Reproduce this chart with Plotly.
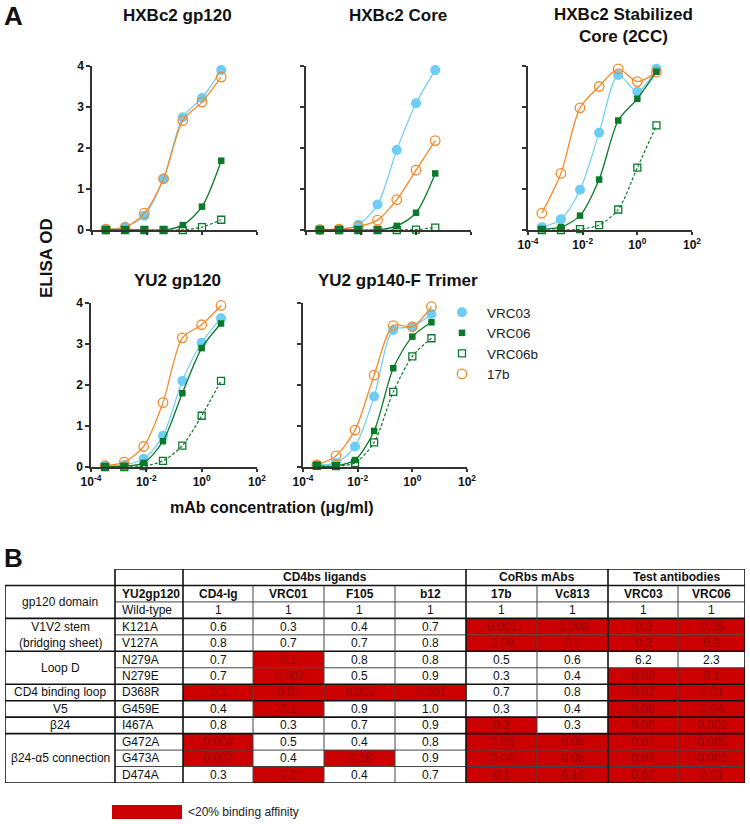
import plotly.graph_objects as go

# ---------------- DATA ----------------
conc = [0.00032, 0.0016, 0.008, 0.04, 0.2, 1, 5]
series_names = ["VRC03", "VRC06", "VRC06b", "17b"]
panel_titles = ["HXBc2 gp120", "HXBc2 Core", "HXBc2 Stabilized<br>Core (2CC)",
                "YU2 gp120", "YU2 gp140-F Trimer"]
x_tick_vals = [1e-4, 1e-2, 1, 100]
x_tick_text = ["10<sup>-4</sup>", "10<sup>-2</sup>", "10<sup>0</sup>", "10<sup>2</sup>"]
y_tick_vals = [0, 1, 2, 3, 4]

gp120_vrc03 = [0.02, 0.08, 0.35, 1.25, 2.75, 3.22, 3.90]
gp120_vrc06 = [0.0, 0.0, 0.0, 0.0, 0.12, 0.57, 1.69]
gp120_vrc06b = [0.0, 0.0, 0.0, 0.0, 0.0, 0.07, 0.25]
gp120_17b = [0.02, 0.06, 0.41, 1.25, 2.67, 3.12, 3.73]

core_vrc03 = [0.01, 0.02, 0.13, 0.62, 1.95, 3.09, 3.90]
core_vrc06 = [0.0, 0.01, 0.0, 0.0, 0.10, 0.42, 1.38]
core_vrc06b = [0.0, 0.0, 0.0, 0.0, 0.0, 0.01, 0.06]
core_17b = [0.01, 0.02, 0.08, 0.24, 0.74, 1.46, 2.18]

cc2_vrc03 = [0.07, 0.26, 0.98, 2.37, 3.78, 3.37, 3.93]
cc2_vrc06 = [0.02, 0.07, 0.35, 1.23, 2.67, 3.20, 3.86]
cc2_vrc06b = [0.0, 0.0, 0.02, 0.12, 0.50, 1.52, 2.55]
cc2_17b = [0.41, 1.38, 2.98, 3.50, 3.93, 3.62, 3.85]

yu2_vrc03 = [0.02, 0.05, 0.20, 0.76, 2.10, 3.03, 3.63]
yu2_vrc06 = [0.01, 0.02, 0.10, 0.63, 1.80, 2.90, 3.50]
yu2_vrc06b = [0.0, 0.0, 0.02, 0.15, 0.52, 1.25, 2.10]
yu2_17b = [0.03, 0.12, 0.50, 1.57, 3.15, 3.47, 3.94]

trimer_vrc03 = [0.05, 0.10, 0.50, 1.72, 3.34, 3.42, 3.73]
trimer_vrc06 = [0.02, 0.03, 0.17, 0.88, 2.41, 3.18, 3.53]
trimer_vrc06b = [0.03, 0.02, 0.10, 0.60, 1.83, 2.70, 3.14]
trimer_17b = [0.05, 0.27, 0.90, 2.24, 3.45, 3.42, 3.91]

# table data
mutants = ["Wild-type", "K121A", "V127A", "N279A", "N279E", "D368R", "G459E",
           "I467A", "G472A", "G473A", "D474A"]
antibodies = ["CD4-Ig", "VRC01", "F105", "b12", "17b", "Vc813", "VRC03", "VRC06"]
ab_groups = ["CD4bs ligands", "CoRbs mAbs", "Test antibodies"]
ab_group_sizes = [4, 2, 2]
domains = ["V1V2 stem<br>(bridging sheet)", "Loop D", "CD4 binding loop", "V5",
           "β24", "β24-α5 connection"]
domain_sizes = [2, 2, 1, 1, 1, 3]
val_cd4ig = ["1", "0.6", "0.8", "0.7", "0.7", "0.1", "0.4", "0.8", "0.004", "0.007", "0.3"]
val_vrc01 = ["1", "0.3", "0.7", "0.1", "0.002", "0.01", "0.1", "0.3", "0.5", "0.4", "0.1"]
val_f105 = ["1", "0.4", "0.7", "0.8", "0.5", "0.002", "0.9", "0.7", "0.4", "0.18", "0.4"]
val_b12 = ["1", "0.7", "0.8", "0.8", "0.9", "0.001", "1.0", "0.9", "0.8", "0.9", "0.7"]
val_17b = ["1", "0.001", "0.08", "0.5", "0.3", "0.7", "0.3", "0.2", "0.03", "0.04", "0.1"]
val_vc813 = ["1", "0.009", "0.1", "0.6", "0.4", "0.8", "0.4", "0.3", "0.06", "0.05", "0.16"]
val_vrc03 = ["1", "0.2", "0.2", "6.2", "0.03", "0.02", "0.08", "0.05", "0.01", "0.02", "0.02"]
val_vrc06 = ["1", "0.05", "0.2", "2.3", "0.1", "0.01", "0.04", "0.002", "0.005", "0.003", "0.01"]
red_threshold = 0.2
key_label = "<20% binding affinity"

# ---------------- STYLE ----------------
W, H = 750, 824
FONT = "Liberation Sans"
BLUE = "#6CCDF5"
GREEN = "#0A7A2A"
ORANGE = "#F58A2A"
RED = "#CC0000"
AXC = "#333333"

def pxx(p):
    return p / W

def pxy(p):
    return 1 - p / H

styles = {
    "VRC03": dict(marker=dict(symbol="circle", size=10, color=BLUE),
                  line=dict(color=BLUE, width=1.2)),
    "VRC06": dict(marker=dict(symbol="square", size=6.5, color=GREEN),
                  line=dict(color=GREEN, width=1.3)),
    "VRC06b": dict(marker=dict(symbol="square-open", size=7, color=GREEN,
                               line=dict(width=1.3, color=GREEN)),
                   line=dict(color=GREEN, width=1.2, dash="3px,2px")),
    "17b": dict(marker=dict(symbol="circle-open", size=9.5, color=ORANGE,
                            line=dict(width=1.3, color=ORANGE)),
                line=dict(color=ORANGE, width=1.3)),
}
draw_order = ["VRC03", "17b", "VRC06b", "VRC06"]

panels = [
    {"VRC03": gp120_vrc03, "VRC06": gp120_vrc06, "VRC06b": gp120_vrc06b, "17b": gp120_17b},
    {"VRC03": core_vrc03, "VRC06": core_vrc06, "VRC06b": core_vrc06b, "17b": core_17b},
    {"VRC03": cc2_vrc03, "VRC06": cc2_vrc06, "VRC06b": cc2_vrc06b, "17b": cc2_17b},
    {"VRC03": yu2_vrc03, "VRC06": yu2_vrc06, "VRC06b": yu2_vrc06b, "17b": yu2_17b},
    {"VRC03": trimer_vrc03, "VRC06": trimer_vrc06, "VRC06b": trimer_vrc06b, "17b": trimer_17b},
]
# pixel boxes (x0, x1, ytop, ybottom)
boxes = [(92, 257, 66, 230), (306, 471, 66, 230), (528, 692, 66, 230),
         (91, 257, 303, 467), (303, 467, 303, 467)]
show_xlabels = [False, False, True, True, True]
show_ylabels = [True, False, False, True, False]
title_pos = [(177, 15), (398, 15), (623, 26), (177, 280), (398, 280)]

fig = go.Figure()
layout = dict(template="none", width=W, height=H, autosize=False,
              margin=dict(l=0, r=0, t=0, b=0, pad=0, autoexpand=False),
              plot_bgcolor="white", paper_bgcolor="white",
              font=dict(family=FONT, color="#111"), showlegend=True)
annotations = []
shapes = []

for i, (pdata, box) in enumerate(zip(panels, boxes)):
    n = i + 1
    xa = "x" if n == 1 else f"x{n}"
    ya = "y" if n == 1 else f"y{n}"
    for name in draw_order:
        st = styles[name]
        fig.add_trace(go.Scatter(
            x=conc, y=pdata[name], mode="lines+markers", xaxis=xa, yaxis=ya,
            line=dict(shape="spline", smoothing=0.8, **st["line"]),
            marker=st["marker"], showlegend=False, cliponaxis=False,
            name=name))
    x0, x1, yt, yb = box
    layout[f"xaxis{'' if n == 1 else n}"] = dict(
        type="log", range=[-4, 2], domain=[pxx(x0), pxx(x1)], anchor=ya,
        showline=True, linecolor=AXC, linewidth=1.5, ticks="outside",
        ticklen=3, tickwidth=1.5, tickcolor=AXC, tickvals=x_tick_vals,
        ticktext=x_tick_text, showticklabels=show_xlabels[i], showgrid=False,
        zeroline=False, automargin=False,
        tickfont=dict(size=12, family=FONT, weight="bold", color="#111"),
        fixedrange=True)
    layout[f"yaxis{'' if n == 1 else n}"] = dict(
        range=[0, 4], domain=[pxy(yb), pxy(yt)], anchor=xa,
        showline=True, linecolor=AXC, linewidth=1.5, ticks="outside",
        ticklen=4, tickwidth=1.5, tickcolor=AXC, tickvals=y_tick_vals,
        showticklabels=show_ylabels[i], showgrid=False, zeroline=False,
        automargin=False,
        tickfont=dict(size=12, family=FONT, weight="bold", color="#111"),
        fixedrange=True)
    tx, ty = title_pos[i]
    annotations.append(dict(text=f"<b>{panel_titles[i]}</b>", x=pxx(tx), y=pxy(ty),
                            xref="paper", yref="paper", showarrow=False,
                            font=dict(size=17, family=FONT, color="#111"),
                            xanchor="center", yanchor="middle"))

# legend-only markers
for name in series_names:
    fig.add_trace(go.Scatter(x=[None], y=[None], mode="markers", name=name,
                             marker=styles[name]["marker"], showlegend=True,
                             xaxis="x5", yaxis="y5"))
layout["legend"] = dict(x=pxx(437), y=pxy(297), xanchor="left", yanchor="top",
                        font=dict(size=13.5, family=FONT, color="#222"),
                        bgcolor="rgba(0,0,0,0)", borderwidth=0, tracegroupgap=0,
                        itemwidth=40)

# axis titles & panel letters
annotations += [
    dict(text="<b>A</b>", x=pxx(13), y=pxy(16), font=dict(size=26)),
    dict(text="<b>B</b>", x=pxx(13), y=pxy(558), font=dict(size=26)),
    dict(text="<b>ELISA OD</b>", x=pxx(46), y=pxy(258), textangle=-90, font=dict(size=17)),
    dict(text="<b>mAb concentration (μg/ml)</b>", x=pxx(272), y=pxy(508), font=dict(size=16)),
]
for a in annotations[-4:]:
    a.update(xref="paper", yref="paper", showarrow=False, xanchor="center", yanchor="middle")
    a["font"].update(family=FONT, color="#111")

# ---------------- TABLE ----------------
col_widths = [110, 68, 70, 71, 71, 71, 71, 71, 70, 67]
edges = [0]
for w in col_widths:
    edges.append(edges[-1] + w)
n_rows = 3 + len(mutants) - 1  # group header, column header, wild-type, mutants
layout["xaxis6"] = dict(domain=[pxx(5), pxx(745)], range=[0, edges[-1]], anchor="y6",
                        visible=False, fixedrange=True, automargin=False)
layout["yaxis6"] = dict(domain=[pxy(783), pxy(569)], range=[n_rows, 0], anchor="x6",
                        visible=False, fixedrange=True, automargin=False)
fig.add_trace(go.Scatter(x=[None], y=[None], xaxis="x6", yaxis="y6", showlegend=False))

value_cols = [val_cd4ig, val_vrc01, val_f105, val_b12, val_17b, val_vc813, val_vrc03, val_vrc06]

def tbl_text(text, x, y, bold=False, color="#111", xanchor="center"):
    annotations.append(dict(text=f"<b>{text}</b>" if bold else text, x=x, y=y,
                            xref="x6", yref="y6", showarrow=False, xanchor=xanchor,
                            yanchor="middle", font=dict(size=12, family=FONT, color=color)))

# red fills
for j, col in enumerate(value_cols):
    for r, v in enumerate(col):
        if float(v) <= red_threshold:
            shapes.append(dict(type="rect", xref="x6", yref="y6",
                               x0=edges[2 + j], x1=edges[3 + j], y0=2 + r, y1=3 + r,
                               fillcolor=RED, line=dict(width=0), layer="above"))

# values
for j, col in enumerate(value_cols):
    cx = (edges[2 + j] + edges[3 + j]) / 2
    tbl_text(antibodies[j], cx, 1.5, bold=True)
    for r, v in enumerate(col):
        red = float(v) <= red_threshold
        tbl_text(v, cx, 2.5 + r, color="#8E0A0A" if red else "#111")
# mutant names
tbl_text("YU2gp120", edges[1] + 5, 1.5, bold=True, xanchor="left")
for r, m in enumerate(mutants):
    tbl_text(m, edges[1] + 5, 2.5 + r, xanchor="left")
# groups header
start = 2
for g, s in zip(ab_groups, ab_group_sizes):
    tbl_text(g, (edges[start] + edges[start + s]) / 2, 0.5, bold=True)
    start += s
# domain column
tbl_text("gp120 domain", edges[1] / 2, 2.0)
row = 3
domain_bounds = [3]
for d, s in zip(domains, domain_sizes):
    tbl_text(d, edges[1] / 2, row + s / 2)
    row += s
    domain_bounds.append(row)

THIN = dict(color="#444", width=1)
THICK = dict(color="#111", width=1.6)

def hline(y, c0, c1, ln):
    shapes.append(dict(type="line", xref="x6", yref="y6", x0=edges[c0], x1=edges[c1],
                       y0=y, y1=y, line=ln, layer="above"))

def vline(c, r0, r1, ln):
    shapes.append(dict(type="line", xref="x6", yref="y6", x0=edges[c], x1=edges[c],
                       y0=r0, y1=r1, line=ln, layer="above"))

ncol = len(col_widths)
hline(0, 1, ncol, THICK)
hline(1, 0, ncol, THICK)
hline(2, 1, ncol, THIN)
for r in range(3, n_rows + 1):
    if r in domain_bounds:
        hline(r, 0, ncol, THICK)
    else:
        hline(r, 1, ncol, THIN)
group_edges = [2]
for s in ab_group_sizes:
    group_edges.append(group_edges[-1] + s)
for c in range(ncol + 1):
    if c == 0:
        vline(c, 1, n_rows, THICK)
    elif c == 1 or c in group_edges:
        vline(c, 0, n_rows, THICK)
    else:
        vline(c, 1, n_rows, THIN)

# key
shapes.append(dict(type="rect", xref="paper", yref="paper", x0=pxx(112), x1=pxx(182),
                   y0=pxy(819), y1=pxy(805), fillcolor=RED, line=dict(width=0)))
annotations.append(dict(text=key_label, x=pxx(186), y=pxy(812), xref="paper", yref="paper",
                        showarrow=False, xanchor="left", yanchor="middle",
                        font=dict(size=12, family=FONT, color="#222")))

layout["annotations"] = annotations
layout["shapes"] = shapes
fig.update_layout(**layout)
fig.write_html("out.html", config={"displayModeBar": False},
               post_script="document.body.style.margin='0';document.body.style.overflow='hidden';")
